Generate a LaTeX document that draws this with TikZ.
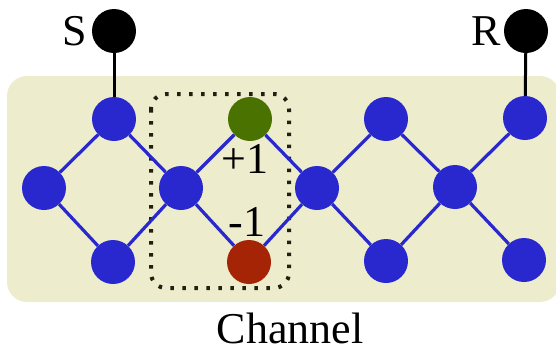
\documentclass[tikz,border=0pt]{standalone}
\usepackage{fontspec}
\setmainfont{Liberation Serif}
\begin{document}
\begin{tikzpicture}[x=1pt,y=-1pt,
  vertex/.style={circle,inner sep=0pt,minimum size=44pt,fill=nodeblue},
  endpoint/.style={circle,inner sep=0pt,minimum size=44pt,fill=black},
  link/.style={draw=nodeblue,line width=3.2pt},
  lead/.style={draw=black,line width=3pt},
  lbl/.style={font=\fontsize{44}{44}\selectfont,inner sep=0pt,text=black}]
\definecolor{nodeblue}{RGB}{40,40,206}
\definecolor{plusgreen}{RGB}{74,114,0}
\definecolor{minusred}{RGB}{166,36,6}
\definecolor{panel}{RGB}{237,236,205}
\definecolor{dotcol}{RGB}{34,32,16}
\useasboundingbox (0,0) rectangle (556,349);
% channel panel
\fill[panel,rounded corners=20pt] (7,76) rectangle (560,302);
% dotted window around the +1/-1 pair
\draw[dotcol,line width=4pt,dash pattern=on 3.5pt off 8.5pt,rounded corners=15pt] (151,94) rectangle (289,288);
% vertices
\node[endpoint] (S) at (114,31) {};
\node[endpoint] (R) at (526,31) {};
\node[vertex] (t1) at (114,119) {};
\node[vertex,fill=plusgreen] (g) at (250,119) {};
\node[vertex] (t3) at (386,119) {};
\node[vertex] (t4) at (525,118) {};
\node[vertex] (m1) at (44,188) {};
\node[vertex] (m2) at (181,188) {};
\node[vertex] (m3) at (317,188) {};
\node[vertex] (m4) at (455,187) {};
\node[vertex] (b1) at (113,262) {};
\node[vertex,fill=minusred] (r) at (249,262) {};
\node[vertex] (b3) at (386,261) {};
\node[vertex] (b4) at (524,260) {};
% connections
\draw[lead] (S) -- (t1);
\draw[lead] (R) -- (t4);
\draw[link] (m1) -- (t1) (m1) -- (b1) (t1) -- (m2) (b1) -- (m2)
  (m2) -- (g) (m2) -- (r) (g) -- (m3) (r) -- (m3)
  (m3) -- (t3) (m3) -- (b3) (t3) -- (m4) (b3) -- (m4)
  (m4) -- (t4) (m4) -- (b4);
% labels
\node[lbl] (sl) at (75,31) {S};
\node[lbl] (rl) at (486,31) {R};
\node[lbl] (pl) at (245,159) {+1};
\node[lbl] (ml) at (247,222) {-1};
\node[lbl,anchor=base] (ch) at (290,343) {Channel};
\end{tikzpicture}
\end{document}
